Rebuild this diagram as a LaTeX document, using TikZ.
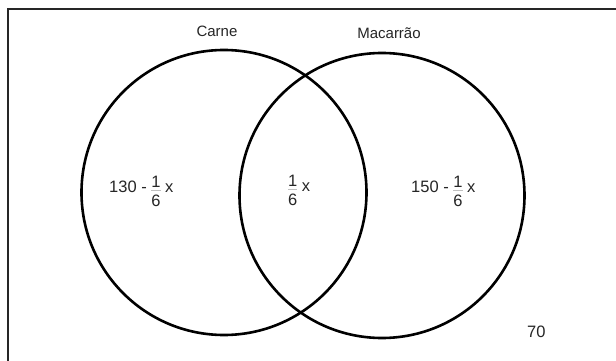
\documentclass[tikz,border=0pt]{standalone}
\usepackage{fontspec}
\setmainfont{Liberation Sans}
\newcommand\myfr[2]{\raisebox{5pt}{\rlap{#1}}\rlap{\color{black!25}\rule[1.5pt]{0.556em}{0.5pt}}\raisebox{-14pt}{#2}}
\begin{document}
\begin{tikzpicture}[x=1pt,y=-1pt,
  setc/.style={draw=black,line width=2.6pt,circle,minimum size=285pt,inner sep=0pt},
  frame/.style={line width=2.6pt,black!85},
  ttl/.style={inner sep=0pt,anchor=base,text=black!85,font=\fontsize{15}{18}\selectfont},
  lbl/.style={inner sep=0pt,anchor=base west,text=black!85,font=\fontsize{16.5}{19}\selectfont}]
\useasboundingbox (0,0) rectangle (616,361);
\fill[white] (0,0) rectangle (616,361);
\coordinate (fb) at (8,365);
\coordinate (fc) at (8,9);
\coordinate (fr) at (620,9);
\draw[frame] (fb) -- (fc) -- (fr);
\node[setc] (carne) at (224,192.5) {};
\node[setc] (macarrao) at (382,195.5) {};
\node[ttl] (tcarne) at (217,37) {Carne};
\node[ttl] (tmac) at (389,39) {Macarrão};
\node[lbl] (lc) at (109,192) {130 - \myfr{1}{6} x};
\node[lbl] (li) at (288,191) {\myfr{1}{6} x};
\node[lbl] (lm) at (411,192) {150 - \myfr{1}{6} x};
\node[lbl] (lo) at (527,337) {70};
\end{tikzpicture}
\end{document}
